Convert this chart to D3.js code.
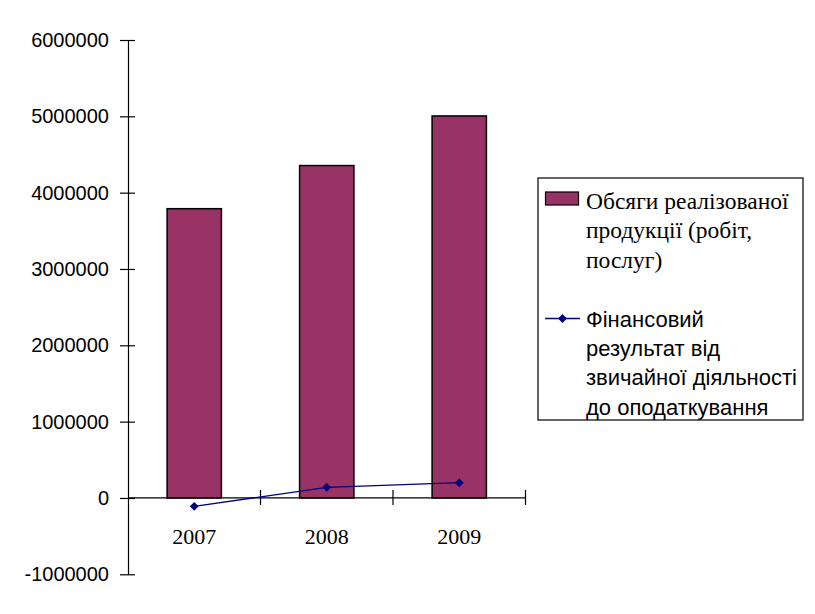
<!DOCTYPE html>
<html><head><meta charset="utf-8">
<script src="https://cdn.jsdelivr.net/npm/d3@7"></script>
<style>body{margin:0;background:#fff}</style>
</head><body>
<script>
const years = ["2007","2008","2009"];
const salesValues = [3790000, 4355000, 5005000];
const resultValues = [-110000, 139000, 200000];
const yTicks = [-1000000,0,1000000,2000000,3000000,4000000,5000000,6000000];
const legendSales = ["Обсяги реалізованої","продукції (робіт,","послуг)"];
const legendResult = ["Фінансовий","результат від","звичайної діяльності","до оподаткування"];

const W=815,H=614;
const svg=d3.select("body").append("svg").attr("width",W).attr("height",H);
const x=d3.scaleBand().domain(years).range([128,525.5]).paddingInner(0.59).paddingOuter(0.295);
const xc=d3.scaleBand().domain(years).range([128,525.5]);
const y=d3.scaleLinear().domain([-1000000,6000000]).range([574.3,40]);

// bars
svg.selectAll("rect.bar").data(years).join("rect")
  .attr("x",d=>x(d)).attr("width",x.bandwidth())
  .attr("y",(d,i)=>y(salesValues[i])).attr("height",(d,i)=>y(0)-y(salesValues[i]))
  .attr("fill","#993366").attr("stroke","#000").attr("stroke-width",1.5);

// y axis
const ya=svg.append("g").attr("transform","translate(128,0)")
  .call(d3.axisLeft(y).tickValues(yTicks).tickFormat(d=>String(d)).tickSizeInner(8).tickSizeOuter(0).tickPadding(11));
ya.select(".domain").attr("stroke","#000").attr("stroke-width",1.2);
ya.selectAll(".tick line").clone().attr("x2",7);
ya.selectAll(".tick line").attr("stroke","#000").attr("stroke-width",1.2);
ya.selectAll("text").attr("font-family","Liberation Sans").attr("font-size","20px").attr("fill","#000");

// x axis (category boundaries)
const boundaries=[...years.map(d=>xc(d)),xc.range()[1]];
svg.append("line").attr("x1",128).attr("x2",525.5).attr("y1",y(0)).attr("y2",y(0)).attr("stroke","#000").attr("stroke-width",1.2);
svg.selectAll("line.xt").data(boundaries.slice(1)).join("line")
  .attr("x1",d=>d).attr("x2",d=>d).attr("y1",y(0)-8).attr("y2",y(0)+7).attr("stroke","#000").attr("stroke-width",1.2);
svg.selectAll("text.xl").data(years).join("text")
  .attr("x",d=>xc(d)+xc.bandwidth()/2).attr("y",544).attr("text-anchor","middle")
  .attr("font-family","Liberation Serif").attr("font-size","22px").text(d=>d);

// line
const cx=d=>xc(d)+xc.bandwidth()/2;
svg.append("path").datum(years).attr("fill","none").attr("stroke","#000080").attr("stroke-width",1.3)
  .attr("d",d3.line().x(d=>cx(d)).y((d,i)=>y(resultValues[i])));
const diamond=d3.symbol().type(d3.symbolDiamond2).size(50);
svg.selectAll("path.pt").data(years).join("path")
  .attr("transform",(d,i)=>`translate(${cx(d)},${y(resultValues[i])})`)
  .attr("d",diamond).attr("fill","#000080");

// legend
const lg=svg.append("g");
lg.append("rect").attr("x",538).attr("y",178).attr("width",265).attr("height",242).attr("fill","#fff").attr("stroke","#000").attr("stroke-width",1.2);
lg.append("rect").attr("x",545.5).attr("y",192).attr("width",33).attr("height",13).attr("fill","#993366").attr("stroke","#000").attr("stroke-width",1.2);
lg.append("line").attr("x1",545).attr("x2",580).attr("y1",318.5).attr("y2",318.5).attr("stroke","#000080").attr("stroke-width",1.3);
lg.append("path").attr("transform","translate(562.5,318.5)").attr("d",diamond).attr("fill","#000080");
lg.selectAll("text.s").data(legendSales).join("text").attr("x",586).attr("y",(d,i)=>209+i*29.3)
  .attr("font-family","Liberation Serif").attr("font-size","23.5px").text(d=>d);
lg.selectAll("text.r").data(legendResult).join("text").attr("x",586).attr("y",(d,i)=>327+i*29.2)
  .attr("font-family","Liberation Sans").attr("font-size","22px").text(d=>d);
</script>
</body></html>
